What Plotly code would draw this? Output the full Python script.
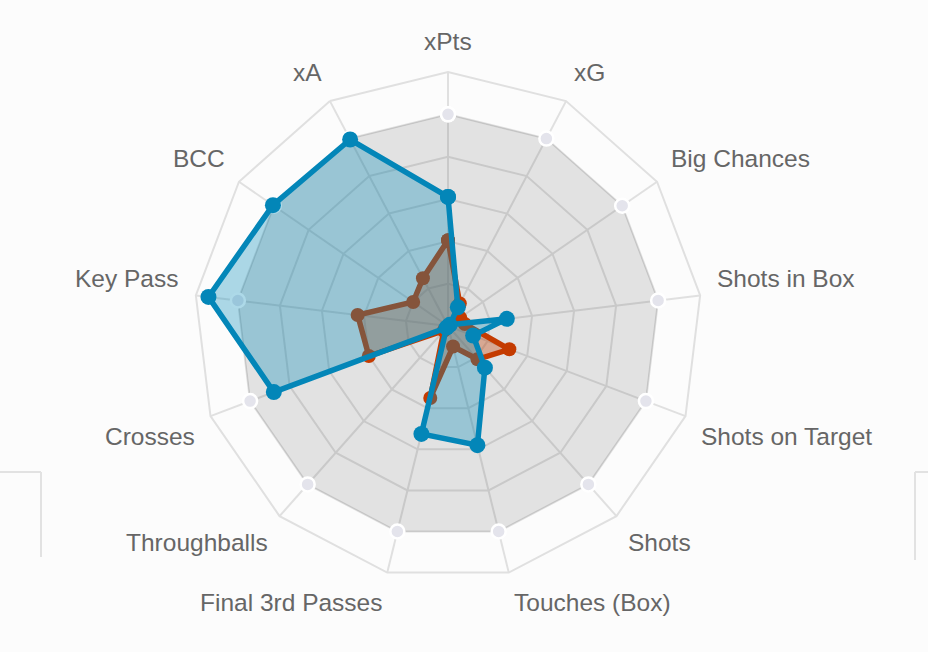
import math
import plotly.graph_objects as go

W, H = 928, 652

categories = ["xPts", "xG", "Big Chances", "Shots in Box", "Shots on Target", "Shots",
              "Touches (Box)", "Final 3rd Passes", "Throughballs", "Crosses", "Key Pass",
              "BCC", "xA"]
max_vals = [100] * 13
red_vals = [40.5, 12, 7, 8, 31, 21, 10, 35, 3, 40, 43, 20, 25.5]
blue_vals = [61, 10, 1, 28, 12.7, 26.3, 58, 52.5, 1, 88, 114, 100.5, 99.5]


def closed(v):
    return list(v) + [v[0]]


theta = closed(categories)

fig = go.Figure()

fig.add_trace(go.Scatterpolar(
    r=closed(max_vals), theta=theta, mode="lines+markers", fill="toself",
    fillcolor="rgba(0,0,0,0.1)",
    line=dict(color="rgba(0,0,0,0.05)", width=1),
    marker=dict(size=14, color="#e4e4ec", line=dict(color="white", width=2.5)),
    hoverinfo="skip", showlegend=False))

fig.add_trace(go.Scatterpolar(
    r=closed(red_vals), theta=theta, mode="lines+markers", fill="toself",
    fillcolor="rgba(196,60,0,0.35)",
    line=dict(color="#c43b00", width=5.5),
    marker=dict(size=14, color="#c43b00"),
    showlegend=False))

fig.add_trace(go.Scatterpolar(
    r=closed(blue_vals), theta=theta, mode="lines+markers", fill="toself",
    fillcolor="rgba(0,136,184,0.32)",
    line=dict(color="#0386b8", width=5.5),
    marker=dict(size=16, color="#0386b8"),
    showlegend=False))

cx, cy, R = 448, 326, 254
fs = 24.5

# point labels, placed round the outer ring like a chart.js radar
label_r = R + 15.6
annotations = []
n = len(categories)
for i, name in enumerate(categories):
    ang = i * 360 / n
    a = math.radians(ang)
    px = cx + label_r * math.sin(a)
    py = cy - label_r * math.cos(a)
    if ang == 0 or ang == 180:
        xa = "center"
    elif ang < 180:
        xa = "left"
    else:
        xa = "right"
    if ang < 90 or ang > 270:
        py -= 0.6 * fs
    else:
        py += 0.6 * fs
    annotations.append(dict(
        text=name, x=px / W, y=1 - py / H, xref="paper", yref="paper",
        xanchor=xa, yanchor="middle", showarrow=False, borderpad=0,
        font=dict(size=fs, color="#666666")))

fig.update_layout(
    width=W, height=H,
    margin=dict(l=0, r=0, t=0, b=0),
    paper_bgcolor="#fcfcfc",
    font=dict(family="Liberation Sans, Arial, sans-serif", color="#666666"),
    polar=dict(
        domain=dict(x=[(cx - R) / W, (cx + R) / W],
                    y=[(H - cy - R) / H, (H - cy + R) / H]),
        bgcolor="#fcfcfc",
        gridshape="linear",
        radialaxis=dict(range=[0, 120], dtick=20, showticklabels=False, ticks="",
                        showline=False, gridcolor="#e0e0e0", gridwidth=2),
        angularaxis=dict(rotation=90, direction="clockwise", ticks="",
                         showticklabels=False,
                         linecolor="#e0e0e0", linewidth=2,
                         gridcolor="#e0e0e0", gridwidth=2),
    ),
    annotations=annotations,
    shapes=[
        dict(type="line", xref="paper", yref="paper", x0=0, x1=41 / W,
             y0=(H - 472) / H, y1=(H - 472) / H, line=dict(color="#e2e2e2", width=2)),
        dict(type="line", xref="paper", yref="paper", x0=41 / W, x1=41 / W,
             y0=(H - 472) / H, y1=(H - 557) / H, line=dict(color="#e2e2e2", width=2)),
        dict(type="line", xref="paper", yref="paper", x0=915 / W, x1=1,
             y0=(H - 472) / H, y1=(H - 472) / H, line=dict(color="#e2e2e2", width=2)),
        dict(type="line", xref="paper", yref="paper", x0=915 / W, x1=915 / W,
             y0=(H - 472) / H, y1=(H - 560) / H, line=dict(color="#e2e2e2", width=2)),
    ],
)

fig.write_html("out.html", config={"displayModeBar": False},
               post_script="document.body.style.margin='0';"
                           "document.body.style.background='#fcfcfc';")
